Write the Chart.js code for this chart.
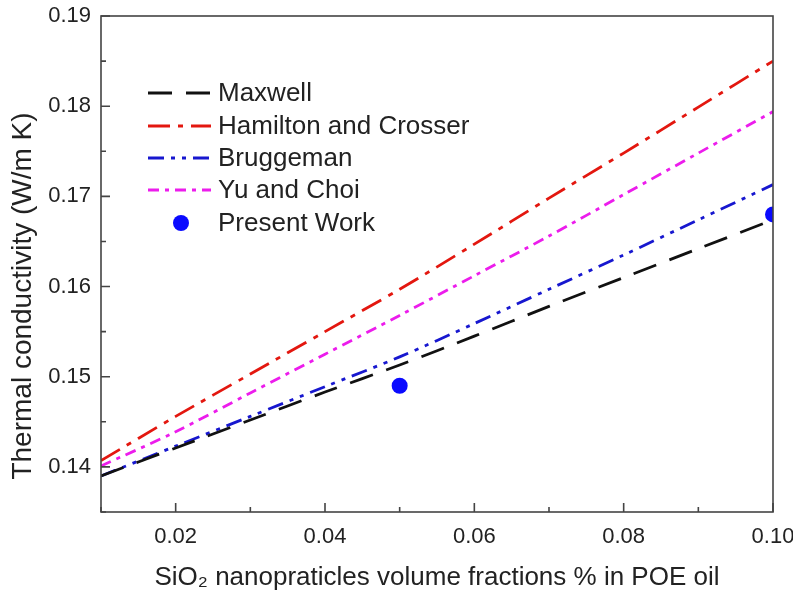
<!DOCTYPE html>
<html>
<head>
<meta charset="utf-8">
<script src="https://cdn.jsdelivr.net/npm/chart.js@4.4.0/dist/chart.umd.min.js"></script>
<style>
  html, body { margin: 0; padding: 0; background: #fff; }
  #wrap { width: 793px; height: 593px; }
</style>
</head>
<body>
<div id="wrap"><canvas id="chart"></canvas></div>
<script>
// volume fraction (x) and model values
var fractions = [0.01, 0.02, 0.03, 0.04, 0.05, 0.06, 0.07, 0.08, 0.09, 0.10];
var maxwell   = [0.1390, 0.1421, 0.1452, 0.1483, 0.1513, 0.1545, 0.1578, 0.1610, 0.1642, 0.1674];
var hamilton  = [0.1407, 0.1456, 0.1503, 0.1550, 0.1597, 0.1647, 0.1698, 0.1748, 0.1799, 0.1850];
var bruggeman = [0.1390, 0.1423, 0.1456, 0.1489, 0.1522, 0.1559, 0.1597, 0.1635, 0.1674, 0.1713];
var yuChoi    = [0.1401, 0.1439, 0.1482, 0.1525, 0.1568, 0.1612, 0.1656, 0.1702, 0.1748, 0.1794];
var presentX  = [0.05, 0.10];
var presentY  = [0.149, 0.168];
var xTickLabels = ['0.02', '0.04', '0.06', '0.08', '0.10'];
var yTickLabels = ['0.14', '0.15', '0.16', '0.17', '0.18', '0.19'];

var FONT = '"Liberation Sans", Arial, sans-serif';
var TEXT = '#222';

function pts(xs, ys) {
	return xs.map(function (x, i) { return { x: x, y: ys[i] }; });
}

function lineSet(label, data, color, dash) {
	return {
		label: label,
		data: pts(fractions, data),
		borderColor: color,
		backgroundColor: color,
		borderWidth: 2.8,
		borderDash: dash,
		pointRadius: 0,
		tension: 0.3,
		fill: false
	};
}

// frame, inner ticks, y title and inset legend
var decorPlugin = {
	id: 'decor',
	afterDraw: function (chart) {
		var ctx = chart.ctx;
		var a = chart.chartArea;
		var xs = chart.scales.x;
		var ys = chart.scales.y;
		ctx.save();
		ctx.strokeStyle = '#444';
		ctx.lineWidth = 1.6;
		ctx.strokeRect(a.left, a.top, a.right - a.left, a.bottom - a.top);

		// inner ticks
		ctx.beginPath();
		var v, p, len;
		for (v = 10; v <= 100; v += 10) {
			p = xs.getPixelForValue(v / 1000);
			len = (v % 20 === 0) ? 9 : 5;
			ctx.moveTo(p, a.bottom);
			ctx.lineTo(p, a.bottom - len);
		}
		for (v = 135; v <= 190; v += 5) {
			p = ys.getPixelForValue(v / 1000);
			len = (v % 10 === 0) ? 9 : 5;
			ctx.moveTo(a.left, p);
			ctx.lineTo(a.left + len, p);
		}
		ctx.stroke();

		// y axis title
		ctx.fillStyle = TEXT;
		ctx.font = '28px ' + FONT;
		ctx.textAlign = 'center';
		ctx.textBaseline = 'middle';
		ctx.translate(23, 296);
		ctx.rotate(-Math.PI / 2);
		ctx.fillText('Thermal conductivity (W/m K)', 0, 0);
		ctx.restore();

		// legend
		ctx.save();
		var rows = [93, 126, 158, 190, 223];
		ctx.font = '26px ' + FONT;
		ctx.textAlign = 'left';
		ctx.textBaseline = 'middle';
		chart.data.datasets.forEach(function (ds, i) {
			var y = rows[i];
			if (ds.showLine === false) {
				ctx.fillStyle = ds.backgroundColor;
				ctx.beginPath();
				ctx.arc(181, y, 8, 0, Math.PI * 2);
				ctx.fill();
			} else {
				ctx.strokeStyle = ds.borderColor;
				ctx.lineWidth = ds.borderWidth;
				ctx.setLineDash(ds.borderDash);
				ctx.beginPath();
				ctx.moveTo(148, y);
				ctx.lineTo(211, y);
				ctx.stroke();
				ctx.setLineDash([]);
			}
			ctx.fillStyle = TEXT;
			ctx.fillText(ds.label, 218, y + 1);
		});
		ctx.restore();
	}
};

new Chart(document.getElementById('chart'), {
	type: 'line',
	data: {
		datasets: [
			lineSet('Maxwell', maxwell, '#111111', [24, 14]),
			lineSet('Hamilton and Crosser', hamilton, '#e3170f', [22, 8, 5, 8]),
			lineSet('Bruggeman', bruggeman, '#1717cf', [16, 7, 4, 7, 4, 7]),
			lineSet('Yu and Choi', yuChoi, '#ec1cec', [11, 6, 4, 6]),
			{
				label: 'Present Work',
				data: pts(presentX, presentY),
				showLine: false,
				pointRadius: 8,
				pointHoverRadius: 8,
				pointBackgroundColor: '#0a0aff',
				pointBorderWidth: 0,
				backgroundColor: '#0a0aff',
				borderColor: '#0a0aff',
				clip: 0
			}
		]
	},
	options: {
		responsive: true,
		maintainAspectRatio: false,
		animation: false,
		events: [],
		layout: { padding: { top: 16, right: 20, left: 0, bottom: 0 } },
		plugins: {
			legend: { display: false },
			tooltip: { enabled: false }
		},
		scales: {
			x: {
				type: 'linear',
				min: 0.01,
				max: 0.10,
				grid: { display: false, drawTicks: false },
				border: { display: false },
				ticks: {
					stepSize: 0.01,
					padding: 12,
					color: TEXT,
					font: { family: FONT, size: 22 },
					maxRotation: 0,
					autoSkip: false,
					callback: function (v) {
						var k = Math.round(v * 100);
						return (k % 2 === 0) ? xTickLabels[k / 2 - 1] : '';
					}
				},
				title: {
					display: true,
					text: 'SiO\u2082 nanopraticles volume fractions % in POE oil',
					color: TEXT,
					font: { family: FONT, size: 26 },
					padding: { top: 4, bottom: 0 }
				},
				afterFit: function (s) {
					s.height = 81;
					s.paddingLeft = 0;
					s.paddingRight = 0;
				}
			},
			y: {
				type: 'linear',
				min: 0.135,
				max: 0.19,
				grid: { display: false, drawTicks: false },
				border: { display: false },
				ticks: {
					stepSize: 0.005,
					padding: 10,
					color: TEXT,
					font: { family: FONT, size: 22 },
					autoSkip: false,
					callback: function (v) {
						var k = Math.round(v * 1000);
						return (k % 10 === 0) ? yTickLabels[(k - 140) / 10] : '';
					}
				},
				afterFit: function (s) {
					s.width = 101;
					s.paddingTop = 0;
					s.paddingBottom = 0;
				}
			}
		}
	},
	plugins: [decorPlugin]
});
</script>
</body>
</html>
